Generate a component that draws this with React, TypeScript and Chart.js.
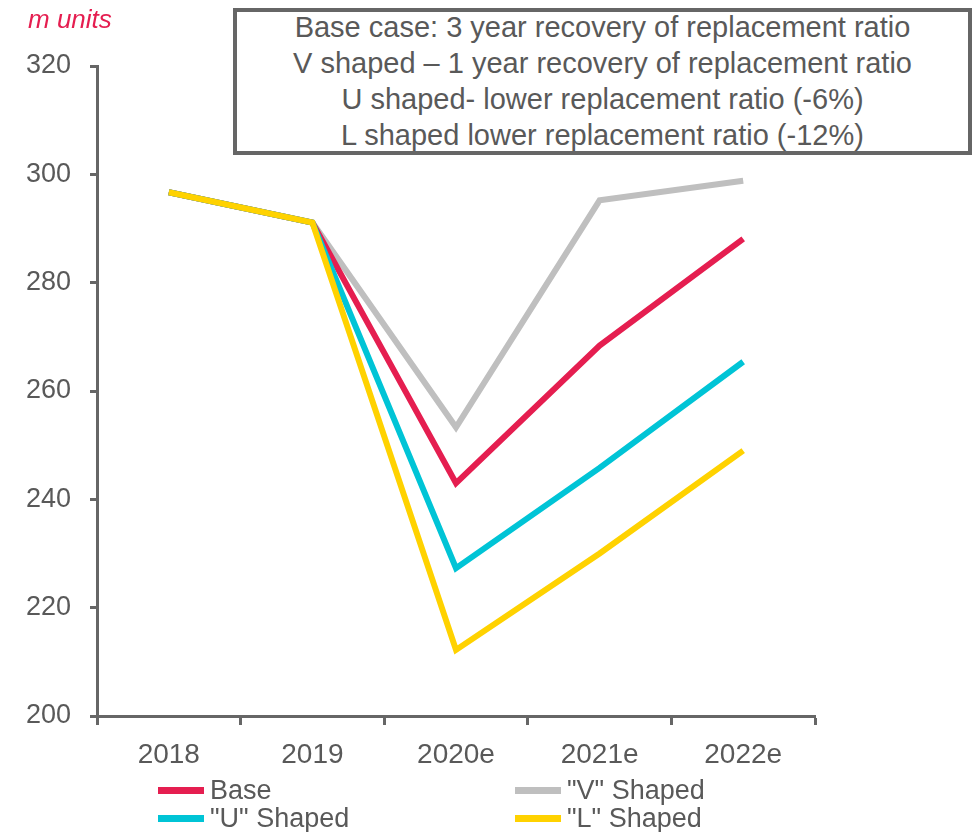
import React, { useEffect, useRef } from "react";
import { Chart, registerables } from "chart.js";

Chart.register(...registerables);

const categories = ["2018", "2019", "2020e", "2021e", "2022e"];
const baseValues = [296.7, 291.1, 243.0, 268.4, 288.1];
const vShapedValues = [296.7, 291.1, 253.3, 295.2, 298.8];
const uShapedValues = [296.7, 291.1, 227.3, 245.8, 265.4];
const lShapedValues = [296.7, 291.1, 212.2, 230.0, 249.0];

const yMin = 200;
const yMax = 320;
const yStep = 20;

const seriesNames = ["Base", '"V" Shaped', '"U" Shaped', '"L" Shaped'];
const seriesColors = ["#E51E50", "#BFBFBF", "#00C4D6", "#FFD200"];

const titleLines = [
  "Base case: 3 year recovery of replacement ratio",
  "V shaped \u2013 1 year recovery of replacement ratio",
  "U shaped- lower replacement ratio (-6%)",
  "L shaped lower replacement ratio (-12%)",
];
const unitLabel = "m units";

const FONT = "'Liberation Sans', Arial, Helvetica, sans-serif";
const TEXT = "#595959";
const AXIS = "#666666";

export default function App() {
  const canvasRef = useRef<HTMLCanvasElement | null>(null);

  useEffect(() => {
    if (!canvasRef.current) return;
    const values = [baseValues, vShapedValues, uShapedValues, lShapedValues];
    const orders = [2, 3, 1, 0];
    const chart = new Chart(canvasRef.current, {
      type: "line",
      data: {
        labels: categories,
        datasets: seriesNames.map((name, i) => ({
          label: name,
          data: values[i],
          borderColor: seriesColors[i],
          backgroundColor: seriesColors[i],
          borderWidth: 6,
          pointRadius: 0,
          pointHoverRadius: 0,
          tension: 0,
          fill: false,
          borderJoinStyle: "miter" as const,
          borderCapStyle: "butt" as const,
          order: orders[i],
        })),
      },
      options: {
        animation: false,
        responsive: false,
        maintainAspectRatio: false,
        layout: { padding: { top: 66, right: 163, left: 0, bottom: 0 } },
        plugins: {
          legend: { display: false },
          tooltip: { enabled: false },
          title: { display: false },
        },
        scales: {
          x: {
            type: "category",
            offset: true,
            grid: {
              display: true,
              drawOnChartArea: false,
              drawTicks: true,
              tickLength: 9,
              tickWidth: 3,
              tickColor: AXIS,
              offset: true,
            },
            border: { display: true, color: AXIS, width: 3 },
            ticks: {
              color: TEXT,
              font: { family: FONT, size: 28 },
              padding: 13,
              maxRotation: 0,
            },
            afterFit: (scale: any) => {
              scale.height = 116;
            },
          },
          y: {
            type: "linear",
            min: yMin,
            max: yMax,
            grid: {
              display: true,
              drawOnChartArea: false,
              drawTicks: true,
              tickLength: 7,
              tickWidth: 3,
              tickColor: AXIS,
            },
            border: { display: true, color: AXIS, width: 3 },
            ticks: {
              stepSize: yStep,
              color: TEXT,
              font: { family: FONT, size: 27 },
              padding: 19,
            },
            afterFit: (scale: any) => {
              scale.width = 97;
            },
          },
        },
      },
    });
    return () => chart.destroy();
  }, []);

  const legendRows = [
    [0, 1],
    [2, 3],
  ];
  const legendX = [158, 515];
  const legendY = [790, 818];

  return (
    <div
      style={{
        position: "fixed",
        left: 0,
        top: 0,
        width: 978,
        height: 832,
        background: "#ffffff",
        overflow: "hidden",
        fontFamily: FONT,
      }}
    >
      <canvas ref={canvasRef} width={978} height={832} style={{ position: "absolute", left: 0, top: 0 }} />
      <div
        style={{
          position: "absolute",
          left: 28,
          top: 4,
          color: "#E51E50",
          fontStyle: "italic",
          fontSize: 26,
          lineHeight: "30px",
        }}
      >
        {unitLabel}
      </div>
      <div
        style={{
          position: "absolute",
          left: 233,
          top: 8,
          width: 739,
          height: 147,
          boxSizing: "border-box",
          border: `4px solid ${AXIS}`,
          color: TEXT,
          fontSize: 29,
          lineHeight: "36px",
          textAlign: "center",
          background: "#ffffff",
          overflow: "visible",
        }}
      >
        <div style={{ marginTop: -3 }}>
          {titleLines.map((t, i) => (
            <div key={i} style={{ whiteSpace: "nowrap" }}>{t}</div>
          ))}
        </div>
      </div>
      {legendRows.map((row, r) =>
        row.map((idx, c) => (
          <div
            key={`${r}-${c}`}
            style={{
              position: "absolute",
              left: legendX[c],
              top: legendY[r] - 16,
              height: 32,
              display: "flex",
              alignItems: "center",
              color: TEXT,
              fontSize: 27,
              whiteSpace: "nowrap",
            }}
          >
            <span
              style={{
                display: "inline-block",
                width: 46,
                height: 7,
                background: seriesColors[idx],
                marginRight: 6,
              }}
            />
            <span>{seriesNames[idx]}</span>
          </div>
        ))
      )}
    </div>
  );
}
